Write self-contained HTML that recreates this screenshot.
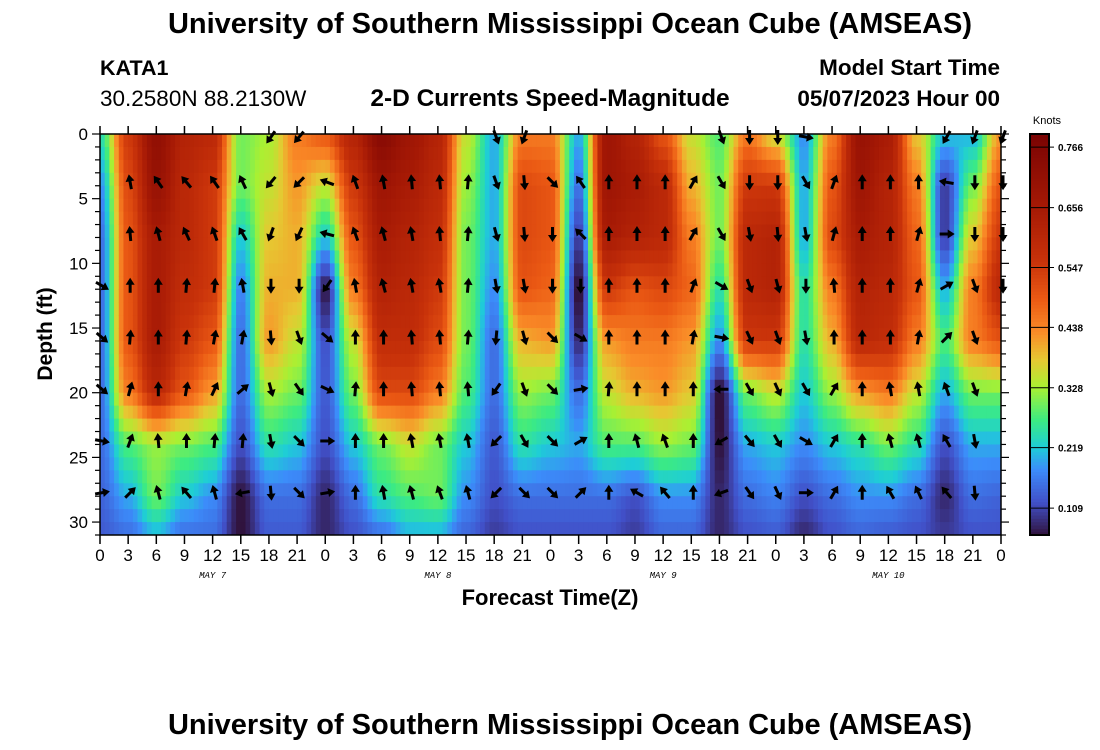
<!DOCTYPE html>
<html><head><meta charset="utf-8"><style>
body{margin:0;background:#fff;}
svg{display:block;font-family:"Liberation Sans",sans-serif;}
</style></head><body>
<svg id="c" width="1100" height="750" xmlns="http://www.w3.org/2000/svg">
<text x="570" y="33" text-anchor="middle" font-size="29" font-weight="bold">University of Southern Mississippi Ocean Cube (AMSEAS)</text>
<text x="100" y="75" font-size="21.5" font-weight="bold">KATA1</text>
<text x="100" y="106" font-size="22.5">30.2580N  88.2130W</text>
<text x="550" y="106" text-anchor="middle" font-size="24.5" font-weight="bold">2-D Currents Speed-Magnitude</text>
<text x="1000" y="75" text-anchor="end" font-size="22.5" font-weight="bold">Model Start Time</text>
<text x="1000" y="106" text-anchor="end" font-size="22.5" font-weight="bold">05/07/2023 Hour 00</text>
<text transform="translate(52,334) rotate(-90)" text-anchor="middle" font-size="21" font-weight="bold">Depth (ft)</text>
<text x="550" y="605" text-anchor="middle" font-size="22" font-weight="bold">Forecast Time(Z)</text>
<text x="570" y="734" text-anchor="middle" font-size="29" font-weight="bold">University of Southern Mississippi Ocean Cube (AMSEAS)</text>
<g id="heat"></g>
<g id="arrows"></g>
<g id="axes"></g>
<g id="cbar"></g>
</svg>
<script>
const hours=[0,3,6,9,12,15,18,21,24,27,30,33,36,39,42,45,48,51,54,57,60,63,66,69,72,75,78,81,84,87,90,93,96];
const depths=[0,4,8,12,16,20,24,28,31];
const speed=[
[0.25,0.18,0.15,0.15,0.15,0.15,0.15,0.14,0.13],
[0.55,0.52,0.5,0.5,0.5,0.45,0.28,0.2,0.15],
[0.72,0.7,0.65,0.65,0.65,0.6,0.32,0.3,0.2],
[0.62,0.6,0.6,0.58,0.55,0.5,0.3,0.22,0.15],
[0.6,0.55,0.55,0.55,0.5,0.42,0.28,0.18,0.15],
[0.3,0.3,0.22,0.17,0.15,0.15,0.12,0.06,0.06],
[0.33,0.35,0.38,0.4,0.42,0.33,0.25,0.15,0.13],
[0.45,0.42,0.4,0.4,0.35,0.3,0.22,0.15,0.13],
[0.5,0.35,0.22,0.06,0.12,0.13,0.12,0.08,0.08],
[0.62,0.55,0.5,0.45,0.35,0.3,0.22,0.15,0.12],
[0.75,0.68,0.65,0.62,0.58,0.52,0.3,0.25,0.15],
[0.68,0.65,0.62,0.6,0.58,0.52,0.35,0.28,0.2],
[0.62,0.6,0.58,0.55,0.52,0.45,0.3,0.3,0.2],
[0.35,0.32,0.3,0.3,0.3,0.28,0.22,0.18,0.14],
[0.2,0.2,0.2,0.18,0.15,0.15,0.13,0.12,0.1],
[0.45,0.52,0.52,0.5,0.4,0.32,0.25,0.15,0.12],
[0.45,0.5,0.5,0.48,0.42,0.3,0.22,0.15,0.12],
[0.2,0.15,0.1,0.05,0.08,0.15,0.2,0.15,0.12],
[0.68,0.68,0.65,0.55,0.42,0.35,0.28,0.15,0.12],
[0.62,0.65,0.62,0.5,0.45,0.4,0.28,0.12,0.1],
[0.5,0.6,0.6,0.52,0.45,0.42,0.32,0.18,0.14],
[0.35,0.4,0.45,0.48,0.42,0.38,0.3,0.18,0.14],
[0.28,0.3,0.3,0.25,0.18,0.05,0.06,0.08,0.08],
[0.45,0.55,0.6,0.6,0.55,0.3,0.2,0.15,0.12],
[0.35,0.55,0.62,0.62,0.55,0.35,0.22,0.17,0.13],
[0.18,0.2,0.2,0.25,0.25,0.22,0.18,0.12,0.08],
[0.45,0.5,0.52,0.45,0.4,0.32,0.22,0.15,0.12],
[0.7,0.68,0.65,0.62,0.6,0.42,0.25,0.18,0.14],
[0.65,0.62,0.62,0.6,0.58,0.45,0.3,0.18,0.13],
[0.38,0.45,0.48,0.5,0.45,0.35,0.25,0.15,0.12],
[0.22,0.1,0.1,0.2,0.28,0.2,0.12,0.08,0.1],
[0.2,0.3,0.38,0.45,0.45,0.3,0.2,0.15,0.12],
[0.42,0.5,0.55,0.6,0.5,0.3,0.2,0.14,0.12]];
const arrowDepths=[0,3.5,7.5,11.5,15.5,19.5,23.5,27.5];
const N=null;
const arrowDir=[
[N,N,N,120,130,130,100,80],
[N,-10,-5,0,5,15,20,45],
[N,-35,-15,0,0,0,-5,-15],
[N,-40,-25,5,5,10,0,-40],
[N,-35,-20,5,10,25,5,-15],
[N,-25,-30,-10,10,50,5,-100],
[215,220,200,180,175,165,170,175],
[220,225,205,180,160,145,135,135],
[N,-70,-75,215,130,115,90,80],
[N,-20,-20,-10,0,5,0,0],
[N,-10,-15,-15,0,0,0,-10],
[N,-5,-10,-10,-5,-5,-10,-15],
[N,-5,-5,-10,-5,-5,-10,-20],
[N,5,5,5,5,-5,-10,-15],
[160,160,165,170,185,215,225,225],
[200,175,175,170,165,160,150,135],
[N,135,180,180,135,135,135,135],
[N,-35,-45,180,120,80,60,45],
[N,0,0,0,0,5,0,0],
[N,0,0,0,0,0,-15,-60],
[N,0,0,0,0,0,-20,-40],
[N,30,30,20,10,0,0,0],
[160,150,150,120,100,-90,240,250],
[180,180,170,160,155,150,140,145],
[180,180,175,165,160,155,150,155],
[100,150,170,180,170,150,120,90],
[N,20,15,-5,0,30,30,30],
[N,0,0,0,0,0,0,0],
[N,0,0,0,0,-10,-15,-30],
[N,0,15,15,10,-10,-15,-25],
[210,-80,90,60,45,-20,-30,-40],
[200,180,180,160,160,160,170,175],
[200,180,180,180,N,N,N,N]];
const cbTicks=[0.109,0.219,0.328,0.438,0.547,0.656,0.766];
const xTickLabels=[0,3,6,9,12,15,18,21,0,3,6,9,12,15,18,21,0,3,6,9,12,15,18,21,0,3,6,9,12,15,18,21,0];
const dayLabels=["MAY  7","MAY  8","MAY  9","MAY  10"];

const NS="http://www.w3.org/2000/svg";
const X0=100,X1=1001,Y0=134,Y1=535,HMAX=96,DMAX=31;
const xs=h=>X0+h*(X1-X0)/HMAX, ys=d=>Y0+d*(Y1-Y0)/DMAX;
const VMIN=0.06,VMAX=0.79;
const stops=[[0.06,48,18,59],[0.12,65,80,200],[0.18,60,140,250],[0.22,30,205,215],[0.27,60,235,130],[0.33,170,240,50],[0.38,230,200,50],[0.43,250,140,40],[0.49,235,90,20],[0.56,200,50,10],[0.66,165,25,5],[0.79,122,4,3]];
function col(v){v=Math.max(VMIN,Math.min(VMAX,v));for(let i=1;i<stops.length;i++){if(v<=stops[i][0]){const a=stops[i-1],b=stops[i],t=(v-a[0])/(b[0]-a[0]);return `rgb(${[1,2,3].map(k=>Math.round(a[k]+t*(b[k]-a[k]))).join(',')})`;}}return 'rgb(122,4,3)';}
function mk(t,at,p){const e=document.createElementNS(NS,t);for(const k in at)e.setAttribute(k,at[k]);p.appendChild(e);return e;}
function idx(arr,v){let i=0;while(i<arr.length-2&&v>arr[i+1])i++;return [i,Math.max(0,Math.min(1,(v-arr[i])/(arr[i+1]-arr[i])))];}
function sm(t){return t*t*(3-2*t);}
function val(h,d){let [i,tx]=idx(hours,h),[j,ty]=idx(depths,d);tx=sm(tx);const a=speed[i][j],b=speed[i+1][j],c=speed[i][j+1],e=speed[i+1][j+1];return (a*(1-tx)+b*tx)*(1-ty)+(c*(1-tx)+e*tx)*ty;}
const heat=document.getElementById('heat');
for(let k=0;k<HMAX*2;k++)for(let d=0;d<DMAX;d++){
 const h=k/2;
 const r=mk('rect',{x:xs(h),y:ys(d),width:xs(h+0.5)-xs(h)+0.5,height:ys(d+1)-ys(d)+0.5,fill:col(val(h+0.25,d+0.5))},heat);
 
 
}
const ag=document.getElementById('arrows');
hours.forEach((h,i)=>arrowDepths.forEach((d,j)=>{
 const a=arrowDir[i][j];if(a===null)return;
 const cx=xs(h)+2,cy=ys(d)+3;
 const g=mk('g',{transform:`translate(${cx},${cy}) rotate(${a})`},ag);
 
 
 mk('line',{x1:0,y1:7,x2:0,y2:-2,stroke:'#000','stroke-width':3},g);
 mk('polygon',{points:'0,-8 -4.5,-1 4.5,-1',fill:'#000'},g);
}));
const ax=document.getElementById('axes');
mk('rect',{x:X0,y:Y0,width:X1-X0,height:Y1-Y0,fill:'none',stroke:'#000','stroke-width':1.5},ax);
for(let h=0;h<=HMAX;h+=3){
 mk('line',{x1:xs(h),y1:Y0,x2:xs(h),y2:Y0-8,stroke:'#000','stroke-width':1.5},ax);
 mk('line',{x1:xs(h),y1:Y1,x2:xs(h),y2:Y1+9,stroke:'#000','stroke-width':1.5},ax);
 const t=mk('text',{x:xs(h),y:561,'text-anchor':'middle','font-size':17},ax);t.textContent=xTickLabels[h/3];
 
 
}
dayLabels.forEach((s,i)=>{const t=mk('text',{x:xs(12+24*i),y:578,'text-anchor':'middle','font-size':9,'font-style':'italic','font-family':'Liberation Mono,monospace'},ax);t.textContent=s;
 
 });
for(let d=0;d<=DMAX;d++){
 const L=d%5===0?8:5;
 mk('line',{x1:X0,y1:ys(d),x2:X0-L,y2:ys(d),stroke:'#000','stroke-width':1.2},ax);
 mk('line',{x1:X1,y1:ys(d),x2:X1+L,y2:ys(d),stroke:'#000','stroke-width':1.2},ax);
 if(d%5===0){const t=mk('text',{x:X0-12,y:ys(d)+6,'text-anchor':'end','font-size':17},ax);t.textContent=d;
 
 }
}
const cb=document.getElementById('cbar');
const CX=1030,CW=19;const cy=v=>Y1-(v-VMIN)/(VMAX-VMIN)*(Y1-Y0);
for(let k=0;k<120;k++){const v0=VMIN+k*(VMAX-VMIN)/120;mk('rect',{x:CX,y:cy(v0+(VMAX-VMIN)/120),width:CW,height:(Y1-Y0)/120+0.6,fill:col(v0+(VMAX-VMIN)/240)},cb);}
mk('rect',{x:CX,y:Y0,width:CW,height:Y1-Y0,fill:'none',stroke:'#000','stroke-width':2},cb);
const kt=mk('text',{x:CX+17,y:124,'text-anchor':'middle','font-size':11},cb);kt.textContent='Knots';
cbTicks.forEach(v=>{mk('line',{x1:CX,y1:cy(v),x2:CX+CW+5,y2:cy(v),stroke:'#000','stroke-width':1},cb);
 const t=mk('text',{x:CX+28,y:cy(v)+4,'font-size':10,'font-weight':'bold'},cb);t.textContent=v.toFixed(3);
 
 });
</script>
</body></html>
